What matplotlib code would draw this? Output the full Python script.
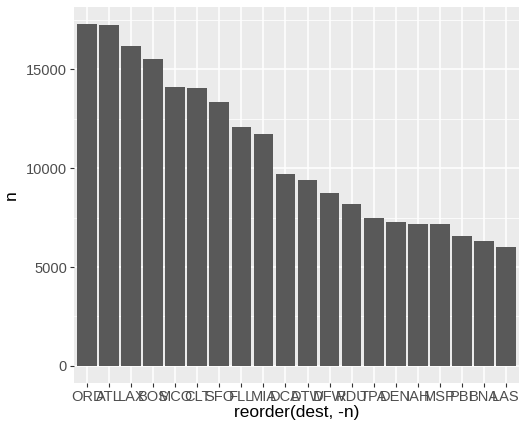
import matplotlib
matplotlib.use("Agg")
import matplotlib.pyplot as plt
import numpy as np

dest = ["ORD","ATL","LAX","BOS","MCO","CLT","SFO","FLL","MIA","DCA",
        "DTW","DFW","RDU","TPA","DEN","IAH","MSP","PBI","BNA","LAS"]
n = [17283,17215,16174,15508,14082,14064,13331,12055,11728,9705,
     9384,8738,8163,7466,7266,7198,7185,6554,6333,5997]
yticks = [0, 5000, 10000, 15000]

plt.rcParams['font.family'] = ['Liberation Sans', 'DejaVu Sans']
fig = plt.figure(figsize=(5.25, 4.32), dpi=100)
ax = fig.add_axes([74/525, 1-383/432, (519-74)/525, (383-7)/432])
ax.set_facecolor('#EBEBEB')
x = np.arange(len(dest))
ax.bar(x, n, width=0.9, color='#595959', zorder=3)
ax.set_xlim(-0.6, len(dest)-1+0.6)
ymax = max(n)*1.05
ax.set_ylim(-max(n)*0.05, ymax)
ax.set_yticks(yticks)
ax.set_yticklabels([str(v) for v in yticks])
ax.set_yticks([2500, 7500, 12500, 17500], minor=True)
ax.set_xticks(x)
ax.set_xticklabels(dest)
ax.grid(which='major', color='white', linewidth=1.1, zorder=0)
ax.grid(which='minor', axis='y', color='white', linewidth=0.55, zorder=0)
for s in ax.spines.values():
    s.set_visible(False)
ax.tick_params(which='major', length=3, color='#333333', width=0.8,
               labelsize=10.5, labelcolor='#4D4D4D', pad=2)
ax.tick_params(which='minor', length=0)
ax.set_xlabel('reorder(dest, -n)', fontsize=12.5, color='black', labelpad=1)
ax.set_ylabel('n', fontsize=12.5, color='black', labelpad=5)
fig.savefig('out.png', dpi=100)
